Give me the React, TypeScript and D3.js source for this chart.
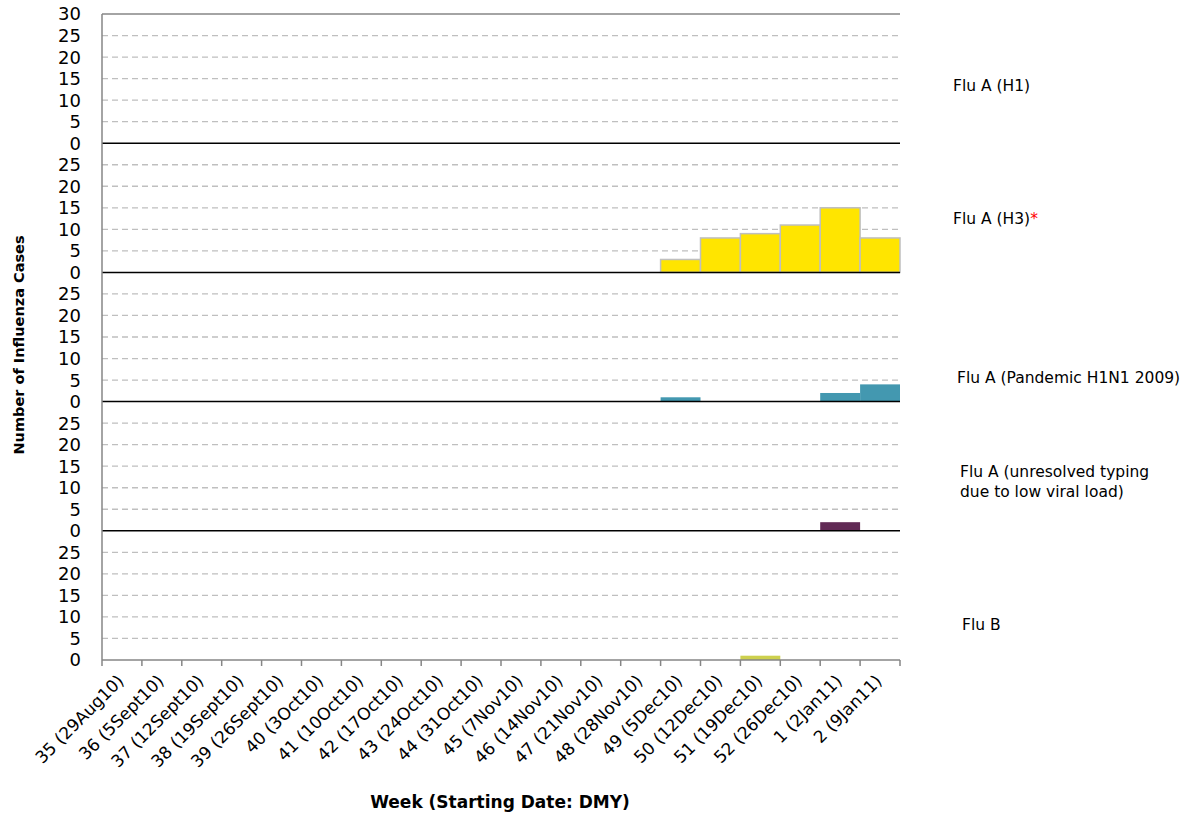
import React from "react";
import * as d3 from "d3";

const weeks = [
  "35 (29Aug10)", "36 (5Sept10)", "37 (12Sept10)", "38 (19Sept10)", "39 (26Sept10)",
  "40 (3Oct10)", "41 (10Oct10)", "42 (17Oct10)", "43 (24Oct10)", "44 (31Oct10)",
  "45 (7Nov10)", "46 (14Nov10)", "47 (21Nov10)", "48 (28Nov10)", "49 (5Dec10)",
  "50 (12Dec10)", "51 (19Dec10)", "52 (26Dec10)", "1 (2Jan11)", "2 (9Jan11)",
];

const fluH1 = [0, 0, 0, 0, 0, 0, 0, 0, 0, 0, 0, 0, 0, 0, 0, 0, 0, 0, 0, 0];
const fluH3 = [0, 0, 0, 0, 0, 0, 0, 0, 0, 0, 0, 0, 0, 0, 3, 8, 9, 11, 15, 8];
const fluPandemic = [0, 0, 0, 0, 0, 0, 0, 0, 0, 0, 0, 0, 0, 0, 1, 0, 0, 0, 2, 4];
const fluUnresolved = [0, 0, 0, 0, 0, 0, 0, 0, 0, 0, 0, 0, 0, 0, 0, 0, 0, 0, 2, 0];
const fluB = [0, 0, 0, 0, 0, 0, 0, 0, 0, 0, 0, 0, 0, 0, 0, 0, 1, 0, 0, 0];

const yTicks = [0, 5, 10, 15, 20, 25, 30];

const panels = [
  { name: "Flu A (H1)", lines: ["Flu A (H1)"], values: fluH1, fill: "#FFE500", stroke: "none", star: false, lx: 953, ly: 91 },
  { name: "Flu A (H3)", lines: ["Flu A (H3)"], values: fluH3, fill: "#FFE500", stroke: "#BFBFBF", star: true, lx: 953, ly: 224 },
  { name: "Flu A (Pandemic H1N1 2009)", lines: ["Flu A (Pandemic H1N1 2009)"], values: fluPandemic, fill: "#4398B0", stroke: "none", star: false, lx: 957, ly: 383 },
  { name: "Flu A (unresolved)", lines: ["Flu A (unresolved typing", "due to low viral load)"], values: fluUnresolved, fill: "#612A55", stroke: "none", star: false, lx: 960, ly: 477 },
  { name: "Flu B", lines: ["Flu B"], values: fluB, fill: "#CDD04E", stroke: "none", star: false, lx: 962, ly: 630 },
];

const W = 1186;
const H = 817;
const left = 102;
const right = 900;
const top = 14;
const bottom = 660;
const font = "'DejaVu Sans', sans-serif";

export default function App() {
  const ph = (bottom - top) / panels.length;
  const x = d3.scaleBand<string>().domain(weeks).range([left, right]).paddingInner(0).paddingOuter(0);

  return (
    <svg width={W} height={H} style={{ position: "absolute", left: 0, top: 0, background: "#fff" }} fontFamily={font}>
      <line x1={left} x2={right} y1={top} y2={top} stroke="#868686" strokeWidth={1.5} />
      {panels.map((p, i) => {
        const zero = top + ph * (i + 1);
        const y = d3.scaleLinear().domain([0, 30]).range([zero, zero - ph]);
        const isLast = i === panels.length - 1;
        const labelTicks = i === 0 ? yTicks : yTicks.filter((t) => t < 30);
        return (
          <g key={p.name}>
            {yTicks.filter((t) => t > 0 && t < 30).map((t) => (
              <line key={t} x1={left} x2={right} y1={y(t)} y2={y(t)} stroke="#BFBFBF" strokeWidth={1.3} strokeDasharray="6,4" />
            ))}
            {labelTicks.map((t) => (
              <text key={"l" + t} x={81} y={y(t)} dy="0.36em" textAnchor="end" fontSize={18} fill="#000">
                {t}
              </text>
            ))}
            {p.values.map((v, j) =>
              v > 0 ? (
                <rect
                  key={j}
                  x={x(weeks[j])!}
                  y={y(v)}
                  width={x.bandwidth()}
                  height={zero - y(v)}
                  fill={p.fill}
                  stroke={p.stroke}
                  strokeWidth={p.stroke === "none" ? 0 : 1.5}
                />
              ) : null
            )}
            {!isLast && <line x1={left} x2={right} y1={zero} y2={zero} stroke="#000" strokeWidth={1.5} />}
            <text x={p.lx} y={p.ly} fontSize={15.5} fill="#000">
              {p.lines.map((ln, k) => (
                <tspan key={k} x={p.lx} dy={k === 0 ? 0 : 20}>
                  {ln}
                  {p.star && k === p.lines.length - 1 ? <tspan fill="#FF0000">*</tspan> : null}
                </tspan>
              ))}
            </text>
          </g>
        );
      })}
      <line x1={left} x2={right} y1={bottom} y2={bottom} stroke="#868686" strokeWidth={1.5} />
      {weeks.map((w) => (
        <line key={"t" + w} x1={x(w)!} x2={x(w)!} y1={bottom} y2={bottom + 6} stroke="#868686" strokeWidth={1.5} />
      ))}
      <line x1={right} x2={right} y1={bottom} y2={bottom + 6} stroke="#868686" strokeWidth={1.5} />
      <line x1={left} x2={left} y1={top} y2={bottom} stroke="#868686" strokeWidth={1.5} />
      {weeks.map((w) => {
        const cx = x(w)! + x.bandwidth() / 2;
        return (
          <text key={"x" + w} transform={`translate(${cx + 3},${682}) rotate(-45)`} textAnchor="end" fontSize={17} fill="#000">
            {w}
          </text>
        );
      })}
      <text x={500} y={808} textAnchor="middle" fontSize={17} fontWeight="bold" fill="#000">
        Week (Starting Date: DMY)
      </text>
      <text transform={`translate(24,345) rotate(-90)`} textAnchor="middle" fontSize={14.5} fontWeight="bold" fill="#000">
        Number of Influenza Cases
      </text>
    </svg>
  );
}
